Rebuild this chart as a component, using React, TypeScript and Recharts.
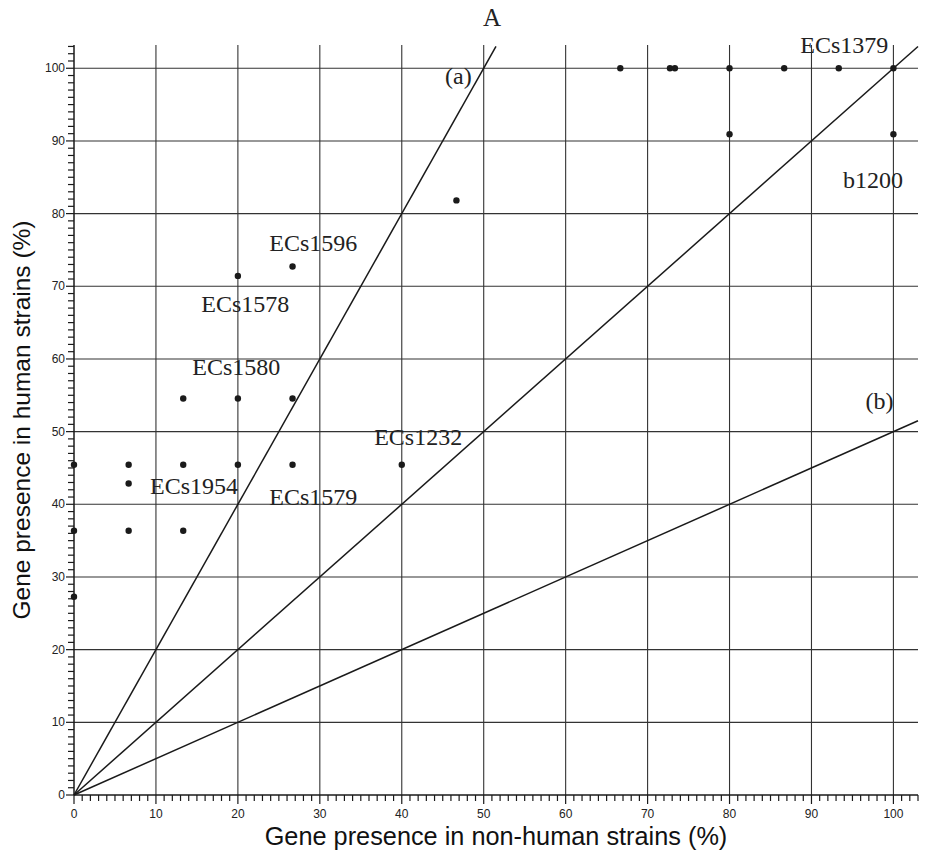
import { ScatterChart, XAxis, YAxis, Scatter, ReferenceLine, Label } from "recharts";

// every 1% gets a tick mark, every 10% a number and a grid line
const axisTicks = Array.from({ length: 104 }, (_, i) => i);
const gridValues = [10, 20, 30, 40, 50, 60, 70, 80, 90, 100];

// [non-human %, human %] per gene
const genePoints: [number, number][] = [
  [0, 45.45], [0, 36.36], [0, 27.27],
  [6.67, 45.45], [6.67, 42.86], [6.67, 36.36],
  [13.33, 54.55], [13.33, 45.45], [13.33, 36.36],
  [20, 71.43], [20, 54.55], [20, 45.45],
  [26.67, 72.73], [26.67, 54.55], [26.67, 45.45],
  [40, 45.45],
  [46.67, 81.82],
  [66.67, 100], [72.73, 100], [73.33, 100], [80, 100],
  [86.67, 100], [93.33, 100], [100, 100],
  [80, 90.91], [100, 90.91],
];

// named genes and line tags, placed at the centre of the text
const textLabels = [
  { x: 94.0, y: 103.2, text: "ECs1379" },
  { x: 97.5, y: 84.6, text: "b1200" },
  { x: 29.2, y: 75.9, text: "ECs1596" },
  { x: 20.9, y: 67.5, text: "ECs1578" },
  { x: 19.8, y: 58.9, text: "ECs1580" },
  { x: 42.0, y: 49.2, text: "ECs1232" },
  { x: 14.65, y: 42.5, text: "ECs1954" },
  { x: 29.2, y: 41.0, text: "ECs1579" },
  { x: 46.9, y: 99.0, text: "(a)" },
  { x: 98.3, y: 54.2, text: "(b)" },
];

// reference ratios: (a) human = 2x non-human, diagonal, (b) human = x/2
const lineA = [{ x: 0, y: 0 }, { x: 51.5, y: 103 }];
const lineEqual = [{ x: 0, y: 0 }, { x: 103, y: 103 }];
const lineB = [{ x: 0, y: 0 }, { x: 103, y: 51.5 }];

const INK = "#1a1a1a";
const SANS = "'Liberation Sans', Arial, sans-serif";
const SERIF = "'Liberation Serif', 'Times New Roman', serif";

function XTick(props: any) {
  const { x, y, payload } = props;
  const major = payload.value % 10 === 0;
  return (
    <g>
      <line x1={x} x2={x} y1={y} y2={y + (major ? 9 : 6)} stroke={INK} strokeWidth={1.2} />
      {major && (
        <text x={x} y={y + 23} textAnchor="middle" fontSize={12} fontFamily={SANS} fill="#222">
          {payload.value}
        </text>
      )}
    </g>
  );
}

function YTick(props: any) {
  const { x, y, payload } = props;
  const major = payload.value % 10 === 0;
  return (
    <g>
      <line x1={x} x2={x - (major ? 8 : 6)} y1={y} y2={y} stroke={INK} strokeWidth={1.2} />
      {major && (
        <text x={x - 9} y={y + 4} textAnchor="end" fontSize={12} fontFamily={SANS} fill="#222">
          {payload.value}
        </text>
      )}
    </g>
  );
}

const dot = (p: any) => <circle cx={p.cx} cy={p.cy} r={3.2} fill={INK} />;

const tag = (p: any) => (
  <text x={p.cx} y={p.cy + 8} textAnchor="middle" fontSize={24} fontFamily={SERIF} fill="#222">
    {p.payload.text}
  </text>
);

export default function App() {
  const points = genePoints.map(([x, y]) => ({ x, y }));

  return (
    <div style={{ position: "absolute", left: 0, top: 0, width: 943, height: 859, background: "#fff" }}>
      <div
        style={{
          position: "absolute",
          left: 0,
          width: 984,
          top: 5,
          textAlign: "center",
          fontFamily: SERIF,
          fontSize: 25,
          lineHeight: "25px",
          color: "#222",
        }}
      >
        A
      </div>
      <ScatterChart width={943} height={859} margin={{ top: 45, right: 25, bottom: 0, left: 0 }}>
        {gridValues.map((v) => (
          <ReferenceLine key={"gx" + v} x={v} stroke="#333" strokeWidth={1.1} />
        ))}
        {gridValues.map((v) => (
          <ReferenceLine key={"gy" + v} y={v} stroke="#333" strokeWidth={1.1} />
        ))}
        <XAxis
          type="number"
          dataKey="x"
          domain={[0, 103]}
          ticks={axisTicks}
          interval={0}
          tickSize={0}
          tickMargin={0}
          tick={<XTick />}
          height={64}
          axisLine={{ stroke: INK, strokeWidth: 1.5 }}
        >
          <Label
            content={(p: any) => (
              <text
                x={p.viewBox.x + p.viewBox.width / 2}
                y={p.viewBox.y + 50}
                textAnchor="middle"
                fontSize={25.3}
                fontFamily={SANS}
                fill="#111"
              >
                Gene presence in non-human strains (%)
              </text>
            )}
          />
        </XAxis>
        <YAxis
          type="number"
          dataKey="y"
          domain={[0, 103]}
          ticks={axisTicks}
          interval={0}
          tickSize={0}
          tickMargin={0}
          tick={<YTick />}
          width={74}
          axisLine={{ stroke: INK, strokeWidth: 1.5 }}
        >
          <Label
            content={(p: any) => {
              const cx = 30;
              const cy = p.viewBox.y + p.viewBox.height / 2;
              return (
                <text
                  x={cx}
                  y={cy}
                  transform={`rotate(-90 ${cx} ${cy})`}
                  textAnchor="middle"
                  fontSize={24.5}
                  fontFamily={SANS}
                  fill="#111"
                >
                  Gene presence in human strains (%)
                </text>
              );
            }}
          />
        </YAxis>
        <ReferenceLine segment={lineA} stroke={INK} strokeWidth={1.5} />
        <ReferenceLine segment={lineEqual} stroke={INK} strokeWidth={1.5} />
        <ReferenceLine segment={lineB} stroke={INK} strokeWidth={1.5} />
        <Scatter data={points} shape={dot} isAnimationActive={false} />
        <Scatter data={textLabels} shape={tag} isAnimationActive={false} />
      </ScatterChart>
    </div>
  );
}
